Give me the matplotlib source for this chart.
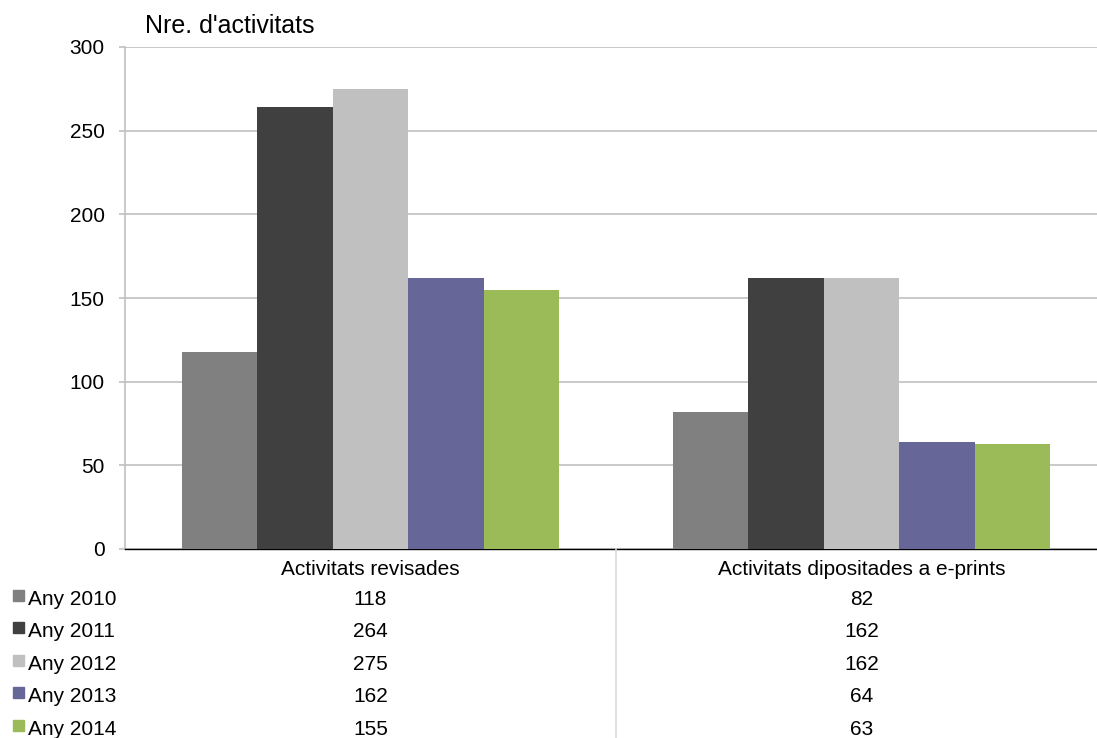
import matplotlib
matplotlib.use("Agg")
import matplotlib.pyplot as plt
from matplotlib.transforms import blended_transform_factory
from matplotlib.patches import Rectangle
import numpy as np

plt.rcParams['font.family'] = ['Liberation Sans', 'DejaVu Sans']

categories = ["Activitats revisades", "Activitats dipositades a e-prints"]
series_names = ["Any 2010", "Any 2011", "Any 2012", "Any 2013", "Any 2014"]
values = {
    "Any 2010": [118, 82],
    "Any 2011": [264, 162],
    "Any 2012": [275, 162],
    "Any 2013": [162, 64],
    "Any 2014": [155, 63],
}
colors = ["#808080", "#404040", "#C0C0C0", "#666699", "#9BBB59"]
yticks = [0, 50, 100, 150, 200, 250, 300]
ylabel = "Nre. d'activitats"

W, H = 1097, 738
FS = 15
fig = plt.figure(figsize=(W / 100, H / 100), dpi=100)
ax = fig.add_axes([125 / W, (H - 549) / H, 982 / W, 502 / H])

x = np.arange(len(categories))
bw = 0.1538
n = len(series_names)
for i, name in enumerate(series_names):
    ax.bar(x + (i - (n - 1) / 2) * bw, values[name], width=bw, color=colors[i],
           linewidth=0, zorder=3)

ax.set_xlim(-0.5, len(categories) - 0.5)
ax.set_ylim(0, 300)
ax.set_yticks(yticks)
ax.set_yticklabels([str(t) for t in yticks], fontsize=FS)
ax.set_xticks([])
ax.grid(axis='y', color='#C0C0C0', linewidth=1.2, zorder=0)
for s in ['top', 'right']:
    ax.spines[s].set_visible(False)
ax.spines['left'].set_color('#C0C0C0')
ax.spines['left'].set_linewidth(1.2)
ax.spines['bottom'].set_color('#000000')
ax.spines['bottom'].set_linewidth(1.0)
ax.tick_params(axis='y', length=4.5, color='#C0C0C0', width=1.2, pad=10, labelcolor='black')

fig.text(145 / W, 1 - 33 / H, ylabel, fontsize=18, ha='left', va='baseline')

# data table
tr = blended_transform_factory(ax.transData, fig.transFigure)
header_base = 575
for j, c in enumerate(categories):
    fig.text(x[j], 1 - header_base / H, c, transform=tr, fontsize=FS,
             ha='center', va='baseline')
row_base = [605, 637, 670, 702, 735]
for i, name in enumerate(series_names):
    yb = 1 - row_base[i] / H
    fig.patches.append(Rectangle((13 / W, 1 - (row_base[i] - 4) / H), 11 / W, 11 / H,
                                 transform=fig.transFigure, color=colors[i], figure=fig))
    fig.text(28 / W, yb, name, fontsize=FS, ha='left', va='baseline')
    for j in range(len(categories)):
        fig.text(x[j], yb, str(values[name][j]), transform=tr, fontsize=FS,
                 ha='center', va='baseline')

# separator line between table columns
fig.add_artist(plt.Line2D([0.5, 0.5], [0, (H - 549) / H], transform=tr,
                          color='#D9D9D9', linewidth=1.2))

fig.savefig("out.png", dpi=100)
